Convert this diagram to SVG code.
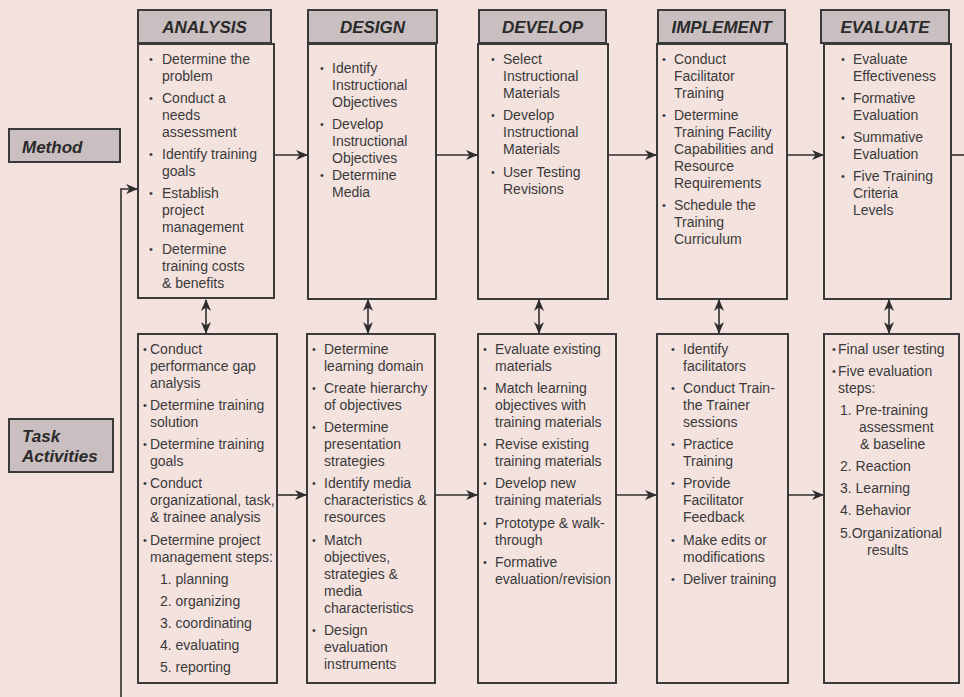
<svg xmlns="http://www.w3.org/2000/svg" width="964" height="697" viewBox="0 0 964 697">
<defs>
<style>
.bg{fill:#f4e2df}
.hdr{fill:#c9bfc0;stroke:#3a3a3a;stroke-width:2}
.box{fill:none;stroke:#3a3a3a;stroke-width:2}
.ht{font-family:"Liberation Sans",Arial,sans-serif;font-size:17px;font-weight:bold;font-style:italic;fill:#2a2a2a}
.t{font-family:"Liberation Sans",Arial,sans-serif;font-size:14px;fill:#3a3a3a}
.t .b{font-size:11px}
.ln{fill:none;stroke:#2e2e2e;stroke-width:1.6}
</style>
<marker id="ah" viewBox="0 0 12 10" refX="11" refY="5" markerWidth="12" markerHeight="10" markerUnits="userSpaceOnUse" orient="auto-start-reverse">
<path d="M0,0 L12,5 L0,10 L3.5,5 z" fill="#2e2e2e"/>
</marker>
</defs>
<rect class="bg" x="0" y="0" width="964" height="697"/>

<g id="connectors">
<line class="ln" x1="274" y1="155" x2="307" y2="155" marker-end="url(#ah)"/>
<line class="ln" x1="436" y1="155" x2="477" y2="155" marker-end="url(#ah)"/>
<line class="ln" x1="608" y1="155" x2="656" y2="155" marker-end="url(#ah)"/>
<line class="ln" x1="787" y1="155" x2="823" y2="155" marker-end="url(#ah)"/>
<line class="ln" x1="951" y1="155" x2="964" y2="155"/>
<line class="ln" x1="277" y1="495" x2="306" y2="495" marker-end="url(#ah)"/>
<line class="ln" x1="435" y1="495" x2="477" y2="495" marker-end="url(#ah)"/>
<line class="ln" x1="616" y1="495" x2="656" y2="495" marker-end="url(#ah)"/>
<line class="ln" x1="788" y1="495" x2="823" y2="495" marker-end="url(#ah)"/>
<polyline class="ln" points="121,697 121,189 137,189" marker-end="url(#ah)"/>
<line class="ln" x1="206" y1="300" x2="206" y2="333" marker-start="url(#ah)" marker-end="url(#ah)"/>
<line class="ln" x1="368" y1="300" x2="368" y2="333" marker-start="url(#ah)" marker-end="url(#ah)"/>
<line class="ln" x1="539" y1="300" x2="539" y2="333" marker-start="url(#ah)" marker-end="url(#ah)"/>
<line class="ln" x1="719" y1="300" x2="719" y2="333" marker-start="url(#ah)" marker-end="url(#ah)"/>
<line class="ln" x1="889" y1="300" x2="889" y2="333" marker-start="url(#ah)" marker-end="url(#ah)"/>
</g>

<g id="method-label">
<rect class="hdr" x="9" y="129" width="111" height="33"/>
<text class="ht" x="22" y="153">Method</text>
</g>
<g id="task-label">
<rect class="hdr" x="9" y="419" width="104" height="53"/>
<text class="ht" x="22" y="442">Task</text>
<text class="ht" x="22" y="462">Activities</text>
</g>

<g id="analysis-header">
<rect class="hdr" x="138" y="10" width="133" height="33"/>
<text class="ht" x="204.5" y="33" text-anchor="middle">ANALYSIS</text>
</g>
<g id="design-header">
<rect class="hdr" x="308" y="10" width="129" height="33"/>
<text class="ht" x="372.5" y="33" text-anchor="middle">DESIGN</text>
</g>
<g id="develop-header">
<rect class="hdr" x="479" y="10" width="127" height="33"/>
<text class="ht" x="542.5" y="33" text-anchor="middle">DEVELOP</text>
</g>
<g id="implement-header">
<rect class="hdr" x="658" y="10" width="127" height="33"/>
<text class="ht" x="721.5" y="33" text-anchor="middle">IMPLEMENT</text>
</g>
<g id="evaluate-header">
<rect class="hdr" x="821" y="10" width="128" height="33"/>
<text class="ht" x="885" y="33" text-anchor="middle">EVALUATE</text>
</g>

<g id="analysis-method">
<rect class="box" x="138" y="44" width="136" height="254"/>
<g class="t">
<text class="b" x="149" y="63">•</text><text x="162" y="64">Determine the</text><text x="162" y="81">problem</text>
<text class="b" x="149" y="102">•</text><text x="162" y="103">Conduct a</text><text x="162" y="120">needs</text><text x="162" y="137">assessment</text>
<text class="b" x="149" y="158">•</text><text x="162" y="159">Identify training</text><text x="162" y="176">goals</text>
<text class="b" x="149" y="197">•</text><text x="162" y="198">Establish</text><text x="162" y="215">project</text><text x="162" y="232">management</text>
<text class="b" x="149" y="253">•</text><text x="162" y="254">Determine</text><text x="162" y="271">training costs</text><text x="162" y="288">&amp; benefits</text>
</g>
</g>

<g id="design-method">
<rect class="box" x="308" y="44" width="128" height="255"/>
<g class="t">
<text class="b" x="320" y="72">•</text><text x="332" y="73">Identify</text><text x="332" y="90">Instructional</text><text x="332" y="107">Objectives</text>
<text class="b" x="320" y="128">•</text><text x="332" y="129">Develop</text><text x="332" y="146">Instructional</text><text x="332" y="163">Objectives</text>
<text class="b" x="320" y="179">•</text><text x="332" y="180">Determine</text><text x="332" y="197">Media</text>
</g>
</g>

<g id="develop-method">
<rect class="box" x="478" y="44" width="130" height="255"/>
<g class="t">
<text class="b" x="491" y="63">•</text><text x="503" y="64">Select</text><text x="503" y="81">Instructional</text><text x="503" y="98">Materials</text>
<text class="b" x="491" y="119">•</text><text x="503" y="120">Develop</text><text x="503" y="137">Instructional</text><text x="503" y="154">Materials</text>
<text class="b" x="491" y="176">•</text><text x="503" y="177">User Testing</text><text x="503" y="194">Revisions</text>
</g>
</g>

<g id="implement-method">
<rect class="box" x="657" y="44" width="130" height="255"/>
<g class="t">
<text class="b" x="662" y="63">•</text><text x="674" y="64">Conduct</text><text x="674" y="81">Facilitator</text><text x="674" y="98">Training</text>
<text class="b" x="662" y="119">•</text><text x="674" y="120">Determine</text><text x="674" y="137">Training Facility</text><text x="674" y="154">Capabilities and</text><text x="674" y="171">Resource</text><text x="674" y="188">Requirements</text>
<text class="b" x="662" y="209">•</text><text x="674" y="210">Schedule the</text><text x="674" y="227">Training</text><text x="674" y="244">Curriculum</text>
</g>
</g>

<g id="evaluate-method">
<rect class="box" x="824" y="44" width="127" height="255"/>
<g class="t">
<text class="b" x="841" y="63">•</text><text x="853" y="64">Evaluate</text><text x="853" y="81">Effectiveness</text>
<text class="b" x="841" y="102">•</text><text x="853" y="103">Formative</text><text x="853" y="120">Evaluation</text>
<text class="b" x="841" y="141">•</text><text x="853" y="142">Summative</text><text x="853" y="159">Evaluation</text>
<text class="b" x="841" y="180">•</text><text x="853" y="181">Five Training</text><text x="853" y="198">Criteria</text><text x="853" y="215">Levels</text>
</g>
</g>

<g id="analysis-tasks">
<rect class="box" x="138" y="334" width="139" height="349"/>
<g class="t">
<text class="b" x="143" y="353">•</text><text x="150" y="354">Conduct</text><text x="150" y="371">performance gap</text><text x="150" y="388">analysis</text>
<text class="b" x="143" y="409">•</text><text x="150" y="410">Determine training</text><text x="150" y="427">solution</text>
<text class="b" x="143" y="448">•</text><text x="150" y="449">Determine training</text><text x="150" y="466">goals</text>
<text class="b" x="143" y="487">•</text><text x="150" y="488">Conduct</text><text x="150" y="505">organizational, task,</text><text x="150" y="522">&amp; trainee analysis</text>
<text class="b" x="143" y="544">•</text><text x="150" y="545">Determine project</text><text x="150" y="562">management steps:</text>
<text x="160" y="584">1. planning</text>
<text x="160" y="606">2. organizing</text>
<text x="160" y="628">3. coordinating</text>
<text x="160" y="650">4. evaluating</text>
<text x="160" y="672">5. reporting</text>
</g>
</g>

<g id="design-tasks">
<rect class="box" x="307" y="334" width="128" height="349"/>
<g class="t">
<text class="b" x="312" y="353">•</text><text x="324" y="354">Determine</text><text x="324" y="371">learning domain</text>
<text class="b" x="312" y="392">•</text><text x="324" y="393">Create hierarchy</text><text x="324" y="410">of objectives</text>
<text class="b" x="312" y="431">•</text><text x="324" y="432">Determine</text><text x="324" y="449">presentation</text><text x="324" y="466">strategies</text>
<text class="b" x="312" y="487">•</text><text x="324" y="488">Identify media</text><text x="324" y="505">characteristics &amp;</text><text x="324" y="522">resources</text>
<text class="b" x="312" y="544">•</text><text x="324" y="545">Match</text><text x="324" y="562">objectives,</text><text x="324" y="579">strategies &amp;</text><text x="324" y="596">media</text><text x="324" y="613">characteristics</text>
<text class="b" x="312" y="634">•</text><text x="324" y="635">Design</text><text x="324" y="652">evaluation</text><text x="324" y="669">instruments</text>
</g>
</g>

<g id="develop-tasks">
<rect class="box" x="478" y="334" width="138" height="349"/>
<g class="t">
<text class="b" x="483" y="353">•</text><text x="495" y="354">Evaluate existing</text><text x="495" y="371">materials</text>
<text class="b" x="483" y="392">•</text><text x="495" y="393">Match learning</text><text x="495" y="410">objectives with</text><text x="495" y="427">training materials</text>
<text class="b" x="483" y="448">•</text><text x="495" y="449">Revise existing</text><text x="495" y="466">training materials</text>
<text class="b" x="483" y="487">•</text><text x="495" y="488">Develop new</text><text x="495" y="505">training materials</text>
<text class="b" x="483" y="527">•</text><text x="495" y="528">Prototype &amp; walk-</text><text x="495" y="545">through</text>
<text class="b" x="483" y="566">•</text><text x="495" y="567">Formative</text><text x="495" y="584">evaluation/revision</text>
</g>
</g>

<g id="implement-tasks">
<rect class="box" x="657" y="334" width="131" height="349"/>
<g class="t">
<text class="b" x="671" y="353">•</text><text x="683" y="354">Identify</text><text x="683" y="371">facilitators</text>
<text class="b" x="671" y="392">•</text><text x="683" y="393">Conduct Train-</text><text x="683" y="410">the Trainer</text><text x="683" y="427">sessions</text>
<text class="b" x="671" y="448">•</text><text x="683" y="449">Practice</text><text x="683" y="466">Training</text>
<text class="b" x="671" y="487">•</text><text x="683" y="488">Provide</text><text x="683" y="505">Facilitator</text><text x="683" y="522">Feedback</text>
<text class="b" x="671" y="544">•</text><text x="683" y="545">Make edits or</text><text x="683" y="562">modifications</text>
<text class="b" x="671" y="583">•</text><text x="683" y="584">Deliver training</text>
</g>
</g>

<g id="evaluate-tasks">
<rect class="box" x="824" y="334" width="135" height="349"/>
<g class="t">
<text class="b" x="832" y="353">•</text><text x="838" y="354">Final user testing</text>
<text class="b" x="832" y="375">•</text><text x="838" y="376">Five evaluation</text><text x="838" y="393">steps:</text>
<text x="840" y="415">1. Pre-training</text><text x="859" y="432">assessment</text><text x="860" y="449">&amp; baseline</text>
<text x="840" y="471">2. Reaction</text>
<text x="840" y="493">3. Learning</text>
<text x="840" y="515">4. Behavior</text>
<text x="840" y="538">5.Organizational</text><text x="867" y="555">results</text>
</g>
</g>
</svg>
